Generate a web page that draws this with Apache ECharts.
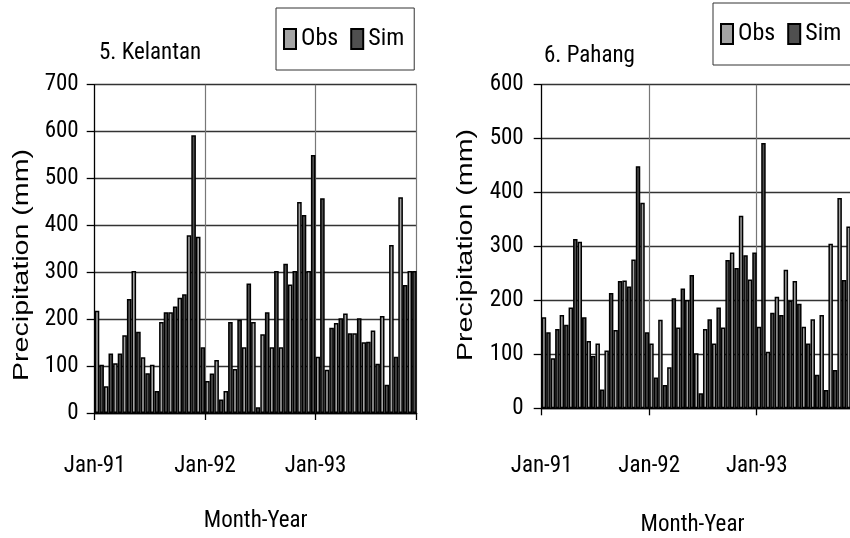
<!DOCTYPE html>
<html><head><meta charset="utf-8">
<script src="https://cdn.jsdelivr.net/npm/echarts@6/dist/echarts.min.js"></script>
<style>html,body{margin:0;padding:0;background:#fff}#c{width:850px;height:538px}</style>
</head><body><div id="c"></div>
<script>
// ---- data ----
const monthNames = ['Jan','Feb','Mar','Apr','May','Jun','Jul','Aug','Sep','Oct','Nov','Dec'];
const years = ['91','92','93'];
const nMonths = 35; // Jan-91 .. Nov-93
const categories = [];
for (let i = 0; i < nMonths; i++) categories.push(monthNames[i % 12] + '-' + years[Math.floor(i / 12)]);

const seriesNames = ['Obs', 'Sim'];
const kelTitle = '5. Kelantan';
const pahTitle = '6. Pahang';
const kelObs = [218, 57, 106, 166, 303, 119, 103, 194, 215, 246, 379, 376,
                68, 113, 47, 94, 140, 194, 168, 140, 140, 274, 450, 303,
                120, 92, 192, 212, 170, 151, 176, 207, 358, 460, 303];
const kelSim = [103, 127, 127, 243, 173, 85, 47, 215, 227, 253, 592, 140,
                84, 29, 194, 199, 276, 12, 215, 303, 318, 303, 422, 550,
                458, 182, 202, 170, 202, 152, 105, 60, 120, 273, 303];
const pahObs = [169, 93, 173, 187, 309, 125, 120, 107, 145, 237, 276, 381,
                120, 164, 76, 150, 201, 102, 147, 120, 150, 289, 357, 239,
                151, 105, 207, 257, 236, 151, 165, 173, 305, 390, 337];
const pahSim = [141, 147, 155, 314, 169, 97, 35, 214, 236, 226, 449, 141,
                57, 43, 204, 222, 247, 28, 165, 187, 275, 260, 284, 289,
                492, 177, 173, 200, 194, 120, 62, 34, 71, 238, 300];
const kelYMax = 700, pahYMax = 600, yStep = 100;
const yTitle = 'Precipitation (mm)';
const xTitle = 'Month-Year';

// ---- styles ----
const NARROW = "'Roboto Condensed','Liberation Sans Narrow','Arial Narrow','DejaVu Sans Condensed',sans-serif";
const FS = 23;
const obsColor = '#a3a3a3', simColor = '#4f4f4f';

function xAxisCfg(gridIndex, labelPad, labelMargin, nameGap, namePad) {
  return {
    type: 'category', gridIndex, data: categories, boundaryGap: true,
    axisLine: { show: true, lineStyle: { color: '#000', width: 1.3 } },
    axisTick: { show: true, inside: false, length: 7, interval: (i) => i % 12 === 0, lineStyle: { color: '#000', width: 1.3 } },
    axisLabel: { show: true, interval: (i) => i % 12 === 0, margin: labelMargin, padding: [0, labelPad, 0, 0],
      color: '#000', fontFamily: NARROW, fontSize: FS },
    splitLine: { show: true, interval: (i) => i === 12 || i === 24, lineStyle: { color: '#777', width: 1.2 } },
    name: xTitle, nameLocation: 'middle', nameGap,
    nameTextStyle: { fontFamily: NARROW, fontSize: FS, color: '#000', padding: namePad }
  };
}
function yAxisCfg(gridIndex, max, margin) {
  return {
    type: 'value', gridIndex, min: 0, max, interval: yStep,
    axisLine: { show: true, lineStyle: { color: '#000', width: 1.3 } },
    axisTick: { show: true, inside: false, length: 8, lineStyle: { color: '#000', width: 1.3 } },
    axisLabel: { margin, color: '#000', fontFamily: NARROW, fontSize: FS },
    splitLine: { show: true, lineStyle: { color: '#333', width: 1.4 } }
  };
}
function barSeries(name, data, idx, color) {
  return {
    type: 'bar', name, data, xAxisIndex: idx, yAxisIndex: idx,
    barGap: '0%', barCategoryGap: '0%',
    itemStyle: { color, borderColor: '#000', borderWidth: 1.5 },
    emphasis: { disabled: true }, animation: false
  };
}
function legendCfg(left, top) {
  return {
    data: seriesNames, left, top, width: 200, orient: 'horizontal',
    icon: 'rect', itemWidth: 12, itemHeight: 20, itemGap: 12,
    padding: [19, 10, 19, 7], borderColor: '#333', borderWidth: 1, backgroundColor: '#fff',
    textStyle: { fontFamily: NARROW, fontSize: 24, color: '#000' },
    selectedMode: false
  };
}

const chart = echarts.init(document.getElementById('c'), null, { renderer: 'canvas' });
chart.setOption({
  animation: false,
  backgroundColor: '#fff',
  title: [
    { text: kelTitle, left: 94, top: 37, textStyle: { fontFamily: NARROW, fontSize: FS, fontWeight: 'normal', color: '#000' } },
    { text: pahTitle, left: 539, top: 40, textStyle: { fontFamily: NARROW, fontSize: FS, fontWeight: 'normal', color: '#000' } }
  ],
  legend: [legendCfg(276, 8), legendCfg(713, 3)],
  grid: [
    { left: 94.7, top: 84.7, width: 322, height: 328.3, outerBoundsMode: 'none', containLabel: false },
    { left: 541.7, top: 84.7, width: 313.6, height: 323.6, outerBoundsMode: 'none', containLabel: false }
  ],
  xAxis: [xAxisCfg(0, 9.2, 42, 97, [0, 0, 0, 0]), xAxisCfg(1, 9, 46, 105, [0, 12, 0, 0])],
  yAxis: [yAxisCfg(0, kelYMax, 16), yAxisCfg(1, pahYMax, 18)],
  graphic: [
    { type: 'text', x: 22, y: 265, rotation: Math.PI / 2, scaleX: 1.3,
      style: { text: yTitle, font: "22px 'Liberation Sans', Arial, sans-serif", fill: '#000', textAlign: 'center', textVerticalAlign: 'middle' } },
    { type: 'text', x: 466, y: 245, rotation: Math.PI / 2, scaleX: 1.3,
      style: { text: yTitle, font: "22px 'Liberation Sans', Arial, sans-serif", fill: '#000', textAlign: 'center', textVerticalAlign: 'middle' } }
  ],
  series: [
    barSeries(seriesNames[0], kelObs, 0, obsColor),
    barSeries(seriesNames[1], kelSim, 0, simColor),
    barSeries(seriesNames[0], pahObs, 1, obsColor),
    barSeries(seriesNames[1], pahSim, 1, simColor)
  ]
});
</script></body></html>
